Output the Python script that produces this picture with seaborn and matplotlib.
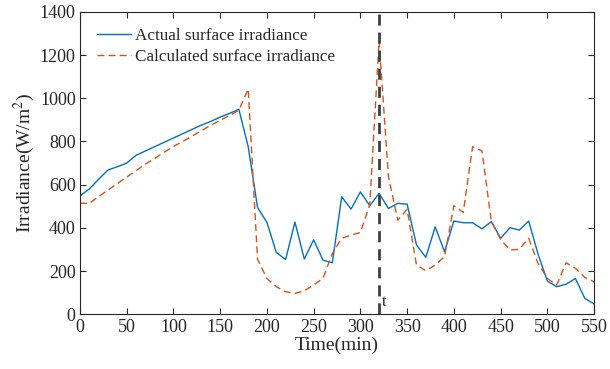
import numpy as np
import pandas as pd
import matplotlib
matplotlib.use('Agg')
import matplotlib.pyplot as plt
import seaborn as sns

time_min = list(range(0, 551, 10))
actual = [548, 580, 625, 668, 683, 700, 736, 756, 776, 796,
          816, 836, 856, 876, 893, 913, 930, 949, 776, 495,
          426, 287, 254, 427, 256, 345, 251, 239, 544, 487,
          567, 503, 560, 490, 514, 510, 321, 264, 405, 290,
          432, 424, 424, 396, 429, 352, 401, 390, 432, 279,
          154, 128, 140, 166, 74, 48]
calculated = [515, 513, 545, 575, 605, 635, 665, 695, 722, 750,
              777, 800, 825, 850, 875, 898, 920, 945, 1043, 255,
              166, 128, 105, 97, 109, 136, 167, 282, 352, 367,
              379, 506, 1265, 637, 436, 486, 228, 202, 228, 267,
              503, 472, 776, 757, 432, 347, 298, 301, 352, 236,
              166, 136, 239, 213, 171, 151]
t_mark = 320

df = pd.DataFrame({'time': time_min * 2,
                   'value': actual + calculated,
                   'series': ['Actual surface irradiance'] * len(actual) +
                             ['Calculated surface irradiance'] * len(calculated)})

sns.set_style('ticks')
plt.rcParams['font.family'] = ['Liberation Serif', 'DejaVu Serif']
plt.rcParams['mathtext.fontset'] = 'stix'

fig = plt.figure(figsize=(6.1, 3.69), dpi=100)
ax = fig.add_axes([0.131, 0.148, 0.843, 0.820])

sns.lineplot(data=df, x='time', y='value', hue='series', style='series',
             palette=['#0072BD', '#D95319'], dashes=[(None, None), (5, 3)],
             linewidth=1.0, ax=ax)
ax.axvline(t_mark, color='#404040', linestyle=(0, (4, 2.5)), linewidth=2)
ax.text(t_mark + 3, 20, 't', fontsize=12, ha='left', va='bottom')

ax.set_xlim(0, 550)
ax.set_ylim(0, 1400)
ax.set_xticks(range(0, 551, 50))
ax.set_yticks(range(0, 1401, 200))
ax.tick_params(direction='in', top=True, right=True, length=4, width=0.8,
               labelsize=13, pad=3)
for s in ax.spines.values():
    s.set_linewidth(0.8)
    s.set_color('#262626')
ax.set_xlabel('Time(min)', fontsize=14, labelpad=1)
ax.set_ylabel('Irradiance(W/m$^2$)', fontsize=14, labelpad=2)

leg = ax.legend(loc='upper left', frameon=False, fontsize=12.3,
                handlelength=2.0, handletextpad=0.25, labelspacing=0.3,
                borderaxespad=0.0, bbox_to_anchor=(0.02, 0.97))

fig.savefig('out.png', dpi=100)
